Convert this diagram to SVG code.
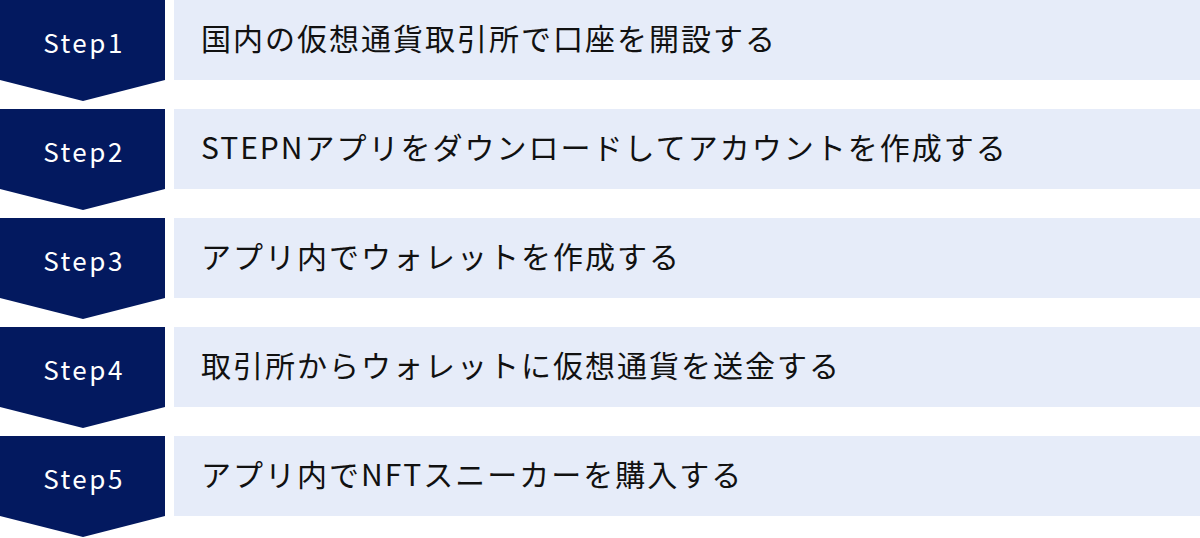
<svg xmlns="http://www.w3.org/2000/svg" width="1200" height="538" viewBox="0 0 1200 538">
<style>
.chev{fill:#03195F}
.bar{fill:#E6ECF9}
.lab{font-family:"Noto Sans CJK JP","Noto Sans",sans-serif;font-size:26px;fill:#FFFFFF;text-anchor:middle;letter-spacing:2.5px}
.txt{font-family:"Noto Sans CJK JP","Noto Sans",sans-serif;font-size:30px;fill:#111111;letter-spacing:2px}
</style>
<defs>
<polygon id="chevShape" points="0,0 165,0 165,80 83,101 0,80"/>
</defs>
<rect width="1200" height="538" fill="#FFFFFF"/>
<g id="connectors"></g>
<g id="step1" transform="translate(0,0)">
<use href="#chevShape" class="chev"/>
<rect class="bar" x="174" y="0" width="1026" height="80"/>
<text class="lab" x="84" y="52.5">Step1</text>
<text class="txt" x="201" y="50">国内の仮想通貨取引所で口座を開設する</text>
</g>
<g id="step2" transform="translate(0,109)">
<use href="#chevShape" class="chev"/>
<rect class="bar" x="174" y="0" width="1026" height="80"/>
<text class="lab" x="84" y="52.5">Step2</text>
<text class="txt" x="201" y="50">STEPNアプリをダウンロードしてアカウントを作成する</text>
</g>
<g id="step3" transform="translate(0,218)">
<use href="#chevShape" class="chev"/>
<rect class="bar" x="174" y="0" width="1026" height="80"/>
<text class="lab" x="84" y="52.5">Step3</text>
<text class="txt" x="201" y="50">アプリ内でウォレットを作成する</text>
</g>
<g id="step4" transform="translate(0,327)">
<use href="#chevShape" class="chev"/>
<rect class="bar" x="174" y="0" width="1026" height="80"/>
<text class="lab" x="84" y="52.5">Step4</text>
<text class="txt" x="201" y="50">取引所からウォレットに仮想通貨を送金する</text>
</g>
<g id="step5" transform="translate(0,436)">
<use href="#chevShape" class="chev"/>
<rect class="bar" x="174" y="0" width="1026" height="80"/>
<text class="lab" x="84" y="52.5">Step5</text>
<text class="txt" x="201" y="50">アプリ内でNFTスニーカーを購入する</text>
</g>
</svg>
